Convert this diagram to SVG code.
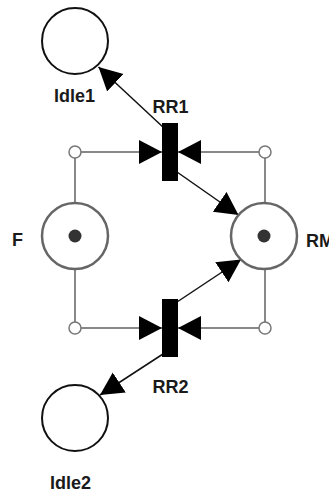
<svg xmlns="http://www.w3.org/2000/svg" width="329" height="493" viewBox="0 0 329 493">
<defs>
<style>
.lbl{font-family:"Liberation Sans",Arial,sans-serif;font-weight:bold;font-size:18px;fill:#1a1a1a}
.place{fill:#fff;stroke:#111;stroke-width:2}
.gplace{fill:#fff;stroke:#666;stroke-width:2.5}
.tok{fill:#333}
.trans{fill:#000}
.inh{stroke:#888;stroke-width:2;fill:none}
.arc{stroke:#111;stroke-width:1.5;fill:none}
.knob{fill:#fff;stroke:#777;stroke-width:1.5}
</style>
<marker id="ah" markerUnits="userSpaceOnUse" markerWidth="26" markerHeight="26" refX="23" refY="12" orient="auto">
<path d="M0,0 L23,12 L0,24 z" fill="#000"/>
</marker>
</defs>
<rect width="329" height="493" fill="#fff"/>
<g id="connectors">
<path class="inh" d="M75,158 V203 M75,269 V322 M265,158 V203 M265,269 V322"/>
<line class="inh" x1="81" y1="152" x2="162" y2="152" marker-end="url(#ah)"/>
<line class="inh" x1="259" y1="152" x2="178" y2="152" marker-end="url(#ah)"/>
<line class="inh" x1="81" y1="328" x2="162" y2="328" marker-end="url(#ah)"/>
<line class="inh" x1="259" y1="328" x2="178" y2="328" marker-end="url(#ah)"/>
<line class="arc" x1="164" y1="128" x2="98.5" y2="67" marker-end="url(#ah)"/>
<line class="arc" x1="177" y1="172" x2="238.5" y2="215" marker-end="url(#ah)"/>
<line class="arc" x1="177" y1="302" x2="241" y2="259.5" marker-end="url(#ah)"/>
<line class="arc" x1="163" y1="354" x2="100" y2="395" marker-end="url(#ah)"/>
<circle class="knob" cx="75" cy="152" r="6"/>
<circle class="knob" cx="265" cy="152" r="6"/>
<circle class="knob" cx="75" cy="328" r="6"/>
<circle class="knob" cx="265" cy="328" r="6"/>
</g>
<g id="Idle1">
<circle class="place" cx="75" cy="41" r="33"/>
<text class="lbl" x="54" y="102">Idle1</text>
</g>
<g id="RR1">
<rect class="trans" x="162" y="123" width="16" height="58"/>
<text class="lbl" x="152.5" y="113">RR1</text>
</g>
<g id="F">
<circle class="gplace" cx="75" cy="236" r="33"/>
<circle class="tok" cx="75" cy="236" r="6.5"/>
<text class="lbl" x="12" y="246">F</text>
</g>
<g id="RM">
<circle class="gplace" cx="264" cy="236" r="33"/>
<circle class="tok" cx="264" cy="236" r="6.5"/>
<text class="lbl" x="306" y="246.5">RM</text>
</g>
<g id="RR2">
<rect class="trans" x="162" y="299" width="16" height="58"/>
<text class="lbl" x="152.5" y="393">RR2</text>
</g>
<g id="Idle2">
<circle class="place" cx="75" cy="418" r="33"/>
<text class="lbl" x="50" y="489">Idle2</text>
</g>
</svg>
